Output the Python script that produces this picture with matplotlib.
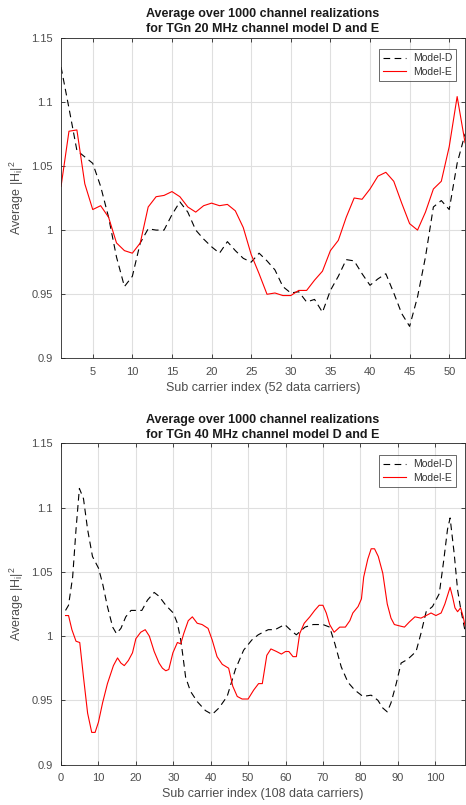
import matplotlib
matplotlib.use("Agg")
import matplotlib.pyplot as plt
from matplotlib.ticker import FuncFormatter

plt.rcParams['font.family'] = ['Liberation Sans', 'DejaVu Sans']
plt.rcParams['mathtext.fontset'] = 'custom'
plt.rcParams['mathtext.rm'] = 'Liberation Sans'
plt.rcParams['mathtext.it'] = 'Liberation Sans'

# --- 20 MHz, 52 data carriers ---
sc20 = list(range(1, 53))
d20 = [1.127, 1.095, 1.062, 1.057, 1.052, 1.034, 1.010, 0.979, 0.956, 0.964,
       0.990, 1.001, 1.000, 1.000, 1.012, 1.022, 1.014, 1.000, 0.993, 0.987,
       0.982, 0.991, 0.984, 0.978, 0.975, 0.982, 0.976, 0.969, 0.956, 0.951,
       0.952, 0.944, 0.946, 0.936, 0.953, 0.964, 0.977, 0.976, 0.966, 0.957,
       0.962, 0.966, 0.951, 0.935, 0.925, 0.948, 0.979, 1.018, 1.023, 1.016,
       1.052, 1.075]
e20 = [1.034, 1.077, 1.078, 1.036, 1.016, 1.019, 1.010, 0.990, 0.984, 0.982,
       0.990, 1.018, 1.026, 1.027, 1.030, 1.026, 1.018, 1.014, 1.019, 1.021,
       1.019, 1.020, 1.015, 1.002, 0.981, 0.966, 0.950, 0.951, 0.949, 0.949,
       0.953, 0.953, 0.961, 0.968, 0.984, 0.992, 1.010, 1.025, 1.024, 1.032,
       1.042, 1.045, 1.038, 1.021, 1.005, 1.000, 1.014, 1.032, 1.038, 1.065,
       1.104, 1.068]

# --- 40 MHz, 108 data carriers (read at curve vertices) ---
xd40 = [1.2, 2, 3.1, 4, 4.9, 6, 7.1, 8.4, 10, 11.1, 12.4, 13.8, 14.8, 16, 17.3,
        18.7, 20, 21.6, 23.1, 24.9, 26.2, 28, 30, 31.1, 32, 32.6, 33.3, 34.6,
        36.4, 38.6, 40.4, 42.2, 44.4, 46.6, 48.8, 51, 52.7, 54, 55.4, 57.2,
        59.8, 61.6, 62.9, 65.2, 67.4, 70, 71.8, 73.2, 74.9, 76.7, 78.5, 80.7,
        82.9, 84.7, 86, 87.2, 88.2, 89.6, 90.9, 92.7, 94.9, 96.2, 97.6, 99.3,
        101.1, 102.3, 103.3, 104, 105.1, 106, 106.9, 108]
d40 = [1.020, 1.024, 1.046, 1.083, 1.115, 1.107, 1.083, 1.062, 1.053, 1.041,
       1.023, 1.007, 1.002, 1.006, 1.015, 1.020, 1.020, 1.020, 1.028, 1.034,
       1.031, 1.024, 1.018, 1.010, 0.997, 0.984, 0.968, 0.957, 0.949, 0.942,
       0.939, 0.944, 0.953, 0.974, 0.989, 0.997, 1.001, 1.003, 1.005, 1.005,
       1.009, 1.004, 1.001, 1.007, 1.009, 1.009, 1.007, 0.994, 0.976, 0.964,
       0.958, 0.953, 0.954, 0.950, 0.944, 0.941, 0.948, 0.963, 0.979, 0.982,
       0.988, 1.002, 1.019, 1.023, 1.033, 1.059, 1.083, 1.092, 1.064, 1.036,
       1.020, 1.004]
xe40 = [1.2, 2, 2.9, 4, 5, 6, 7.1, 8.2, 9.1, 10, 11.1, 12.4, 14, 15.1, 16, 16.9,
        18, 19.1, 20, 21.3, 22.5, 23.6, 24.9, 26.2, 27.1, 28, 28.8, 29.9, 31.1,
        32, 32.8, 34, 35.1, 36.4, 37.7, 39.3, 40.4, 41.7, 43.1, 44.8, 45.9,
        47.1, 48.4, 50, 51.5, 52.8, 53.8, 55, 56.1, 57.6, 58.9, 60, 60.9, 62,
        62.9, 63.8, 65, 66.5, 67.8, 69, 70, 70.9, 71.8, 73, 74.5, 76, 77.2, 78,
        79.4, 80.3, 80.9, 82, 82.9, 83.8, 84.8, 86, 87.2, 88.2, 89.1, 90.4,
        91.8, 93.1, 94.6, 96.2, 97.6, 98.9, 100.2, 101.6, 102.6, 104, 104.7,
        105.3, 106, 106.8, 107.5, 108]
e40 = [1.016, 1.016, 1.005, 0.996, 0.995, 0.968, 0.940, 0.925, 0.925, 0.933,
       0.948, 0.963, 0.977, 0.983, 0.979, 0.977, 0.981, 0.987, 0.998, 1.003,
       1.005, 1.000, 0.988, 0.979, 0.975, 0.973, 0.974, 0.987, 0.995, 0.994,
       1.002, 1.012, 1.015, 1.010, 1.009, 1.006, 0.997, 0.984, 0.978, 0.975,
       0.961, 0.953, 0.951, 0.951, 0.958, 0.963, 0.963, 0.985, 0.990, 0.988,
       0.986, 0.988, 0.988, 0.984, 0.984, 1.002, 1.010, 1.015, 1.020, 1.024,
       1.024, 1.018, 1.009, 1.003, 1.007, 1.007, 1.012, 1.018, 1.023, 1.029,
       1.046, 1.060, 1.068, 1.068, 1.062, 1.049, 1.025, 1.014, 1.009, 1.008,
       1.007, 1.011, 1.015, 1.014, 1.016, 1.018, 1.016, 1.018, 1.025, 1.038,
       1.030, 1.022, 1.019, 1.022, 1.015, 1.008]

yticks = [0.9, 0.95, 1.0, 1.05, 1.1, 1.15]
AXC = '#262626'


def style_axes(ax, title, xlabel, xlim, xticks):
    ax.set_xlim(*xlim)
    ax.set_ylim(0.9, 1.15)
    ax.set_xticks(xticks)
    ax.set_yticks(yticks)
    ax.yaxis.set_major_formatter(FuncFormatter(lambda v, p: ('%.2f' % v).rstrip('0').rstrip('.')))
    ax.grid(True, color='#dfdfdf', linewidth=0.8)
    ax.set_axisbelow(True)
    ax.tick_params(direction='in', top=True, right=True, length=3, width=0.6,
                   colors=AXC, labelcolor='#4d4d4d', labelsize=8, pad=6)
    for s in ax.spines.values():
        s.set_color(AXC)
        s.set_linewidth(0.6)
    ax.set_title(title, fontsize=9, fontweight='bold', color='#1a1a1a', pad=4,
                 linespacing=1.35)
    ax.set_xlabel(xlabel, fontsize=9, color='#4d4d4d', labelpad=4)
    ax.set_ylabel(r'Average |H$_\mathregular{i}$|$^\mathregular{2}$', fontsize=9,
                  color='#4d4d4d', labelpad=4)
    leg = ax.legend(loc='upper right', bbox_to_anchor=(0.978, 0.964),
                    borderaxespad=0, fontsize=7.5, frameon=True, fancybox=False,
                    borderpad=0.4, handlelength=2.2, labelspacing=0.35,
                    handletextpad=0.6)
    leg.get_frame().set_edgecolor(AXC)
    leg.get_frame().set_linewidth(0.6)
    for t in leg.get_texts():
        t.set_color('#333333')


fig = plt.figure(figsize=(4.66, 8.05), dpi=100)
ax1 = fig.add_axes([0.131, 0.5547, 0.867, 0.3987])
ax2 = fig.add_axes([0.131, 0.0503, 0.867, 0.3988])

ax1.plot(sc20, d20, color='black', linestyle=(0, (6, 4)), linewidth=0.8, label='Model-D')
ax1.plot(sc20, e20, color='#ff0000', linewidth=0.8, label='Model-E')
style_axes(ax1, 'Average over 1000 channel realizations\nfor TGn 20 MHz channel model D and E',
           'Sub carrier index (52 data carriers)', (1, 52), list(range(5, 51, 5)))

ax2.plot(xd40, d40, color='black', linestyle=(0, (6, 4)), linewidth=0.8, label='Model-D')
ax2.plot(xe40, e40, color='#ff0000', linewidth=0.8, label='Model-E')
style_axes(ax2, 'Average over 1000 channel realizations\nfor TGn 40 MHz channel model D and E',
           'Sub carrier index (108 data carriers)', (0, 108), list(range(0, 101, 10)))

fig.savefig('out.png', dpi=100)
